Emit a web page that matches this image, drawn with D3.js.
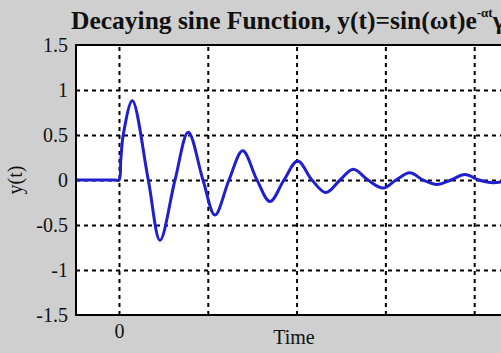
<!DOCTYPE html>
<html>
<head>
<meta charset="utf-8">
<script src="https://cdn.jsdelivr.net/npm/d3@7"></script>
<style>
  html, body { margin: 0; padding: 0; background: #cfcfcf; overflow: hidden; }
  svg { display: block; }
</style>
</head>
<body>
<svg id="chart"></svg>
<script>
// values (time in x-tick units, t = 0 at first grid line)
const time = [-0.484, -0.05, 0, 0.02, 0.048, 0.150, 0.330, 0.462, 0.631, 0.780, 0.946, 1.081, 1.239,
  1.393, 1.554, 1.700, 1.858, 2.012, 2.173, 2.331, 2.489, 2.638, 2.804, 2.976, 3.119,
  3.277, 3.423, 3.581, 3.739, 3.896, 4.054, 4.212, 4.426];
const yValues = [0, 0, 0, 0.22, 0.5, 0.88, 0, -0.67, 0, 0.53, 0, -0.39, 0,
  0.325, 0, -0.24, 0, 0.21, 0, -0.14, 0, 0.12, 0, -0.09, 0,
  0.08, 0, -0.05, 0, 0.06, 0, -0.03, 0];
const xTicks = [0, 1, 2, 3, 4];
const xTickLabels = ['0', '', '', '', ''];
const yTicks = [-1.5, -1, -0.5, 0, 0.5, 1, 1.5];
const yTickLabels = ['-1.5', '-1', '-0.5', '0', '0.5', '1', '1.5'];

const width = 501, height = 353;
const margin = { top: 45, right: -11, bottom: 38, left: 76 };
const innerW = width - margin.left - margin.right;
const innerH = height - margin.top - margin.bottom;
const font = '"Liberation Serif", "Times New Roman", serif';

const svg = d3.select('#chart').attr('width', width).attr('height', height);
svg.append('rect').attr('width', width).attr('height', height).attr('fill', '#cfcfcf');

const chart = svg.append('g').attr('transform', `translate(${margin.left}, ${margin.top})`);

const xscale = d3.scaleLinear().domain([-0.484, 4.426]).range([0, innerW]);
const yscale = d3.scaleLinear().domain([-1.5, 1.5]).range([innerH, 0]);

chart.append('rect').attr('width', innerW).attr('height', innerH).attr('fill', '#fff');

// grid lines
const xgrid = chart.append('g')
  .attr('transform', `translate(0, ${innerH})`)
  .call(d3.axisBottom(xscale).tickValues(xTicks).tickSize(-innerH).tickFormat(''));
xgrid.select('.domain').remove();
xgrid.selectAll('line').attr('stroke', '#000').attr('stroke-width', 2).attr('stroke-dasharray', '4,4');

const ygrid = chart.append('g')
  .call(d3.axisLeft(yscale).tickValues(yTicks.slice(1, -1)).tickSize(-innerW).tickFormat(''));
ygrid.select('.domain').remove();
ygrid.selectAll('line').attr('stroke', '#000').attr('stroke-width', 2).attr('stroke-dasharray', '4,4');

// tick labels
const xaxis = chart.append('g')
  .attr('transform', `translate(0, ${innerH})`)
  .call(d3.axisBottom(xscale).tickValues(xTicks).tickSize(0).tickPadding(9)
    .tickFormat((d, i) => xTickLabels[i]));
xaxis.select('.domain').remove();

const yaxis = chart.append('g')
  .call(d3.axisLeft(yscale).tickValues(yTicks).tickSize(0).tickPadding(8)
    .tickFormat((d, i) => yTickLabels[i]));
yaxis.select('.domain').remove();

[xaxis, yaxis].forEach(g => g.selectAll('text')
  .style('font-family', font).style('font-size', '20px').attr('fill', '#111'));

// curve
const line = d3.line()
  .x((d, i) => xscale(time[i]))
  .y(d => yscale(d))
  .curve(d3.curveCatmullRom.alpha(0.5));

chart.append('path')
  .datum(yValues)
  .attr('d', line)
  .attr('fill', 'none')
  .attr('stroke', '#1f1fcf')
  .attr('stroke-width', 3)
  .attr('stroke-linejoin', 'round');

// frame
chart.append('rect').attr('width', innerW).attr('height', innerH)
  .attr('fill', 'none').attr('stroke', '#000').attr('stroke-width', 2);

// title (runs past the right edge, as in the source image)
const title = svg.append('text')
  .attr('x', 71).attr('y', 29)
  .style('font-family', font).style('font-size', '25.5px').style('font-weight', 'bold')
  .attr('fill', '#111');
title.append('tspan').text('Decaying sine Function, y(t)=sin(ωt)e');
title.append('tspan').attr('dy', -12).style('font-size', '13px').text('-αt');
title.append('tspan').attr('dy', 12).text('γ(t)');

svg.append('text')
  .attr('x', 294).attr('y', 344)
  .attr('text-anchor', 'middle')
  .style('font-family', font).style('font-size', '20px')
  .attr('fill', '#111')
  .text('Time');

svg.append('text')
  .attr('transform', 'translate(22, 180) rotate(-90)')
  .attr('text-anchor', 'middle')
  .style('font-family', font).style('font-size', '20px')
  .attr('fill', '#111')
  .text('y(t)');
</script>
</body>
</html>
